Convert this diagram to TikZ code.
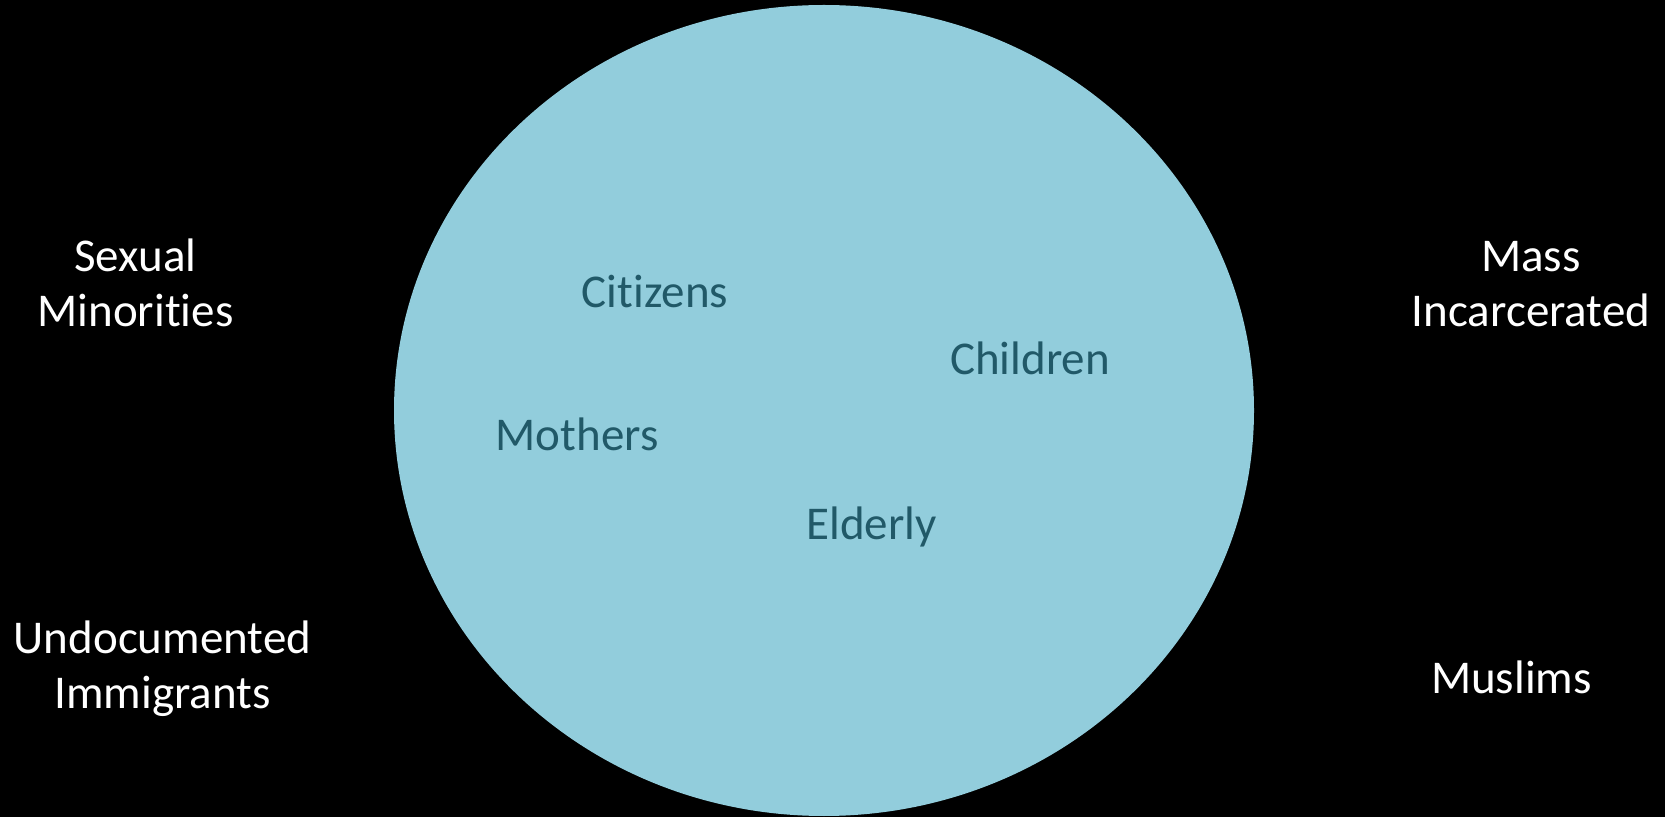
\documentclass[tikz,border=0pt]{standalone}
\usepackage{fontspec}
\setmainfont{Carlito}[Ligatures=NoCommon]
\definecolor{circfill}{HTML}{92CDDC}
\definecolor{innertext}{HTML}{215968}
\begin{document}
\begin{tikzpicture}[x=0.5pt,y=-0.5pt,
  lbl/.style={inner sep=0pt, outer sep=0pt, anchor=base, align=center,
    font=\fontsize{23.5}{27.5}\selectfont},
  outer/.style={lbl, text=white},
  inner/.style={lbl, text=innertext}]
  \fill[black] (0,0) rectangle (1665,817);
  \useasboundingbox (0,0) rectangle (1665,817);
  \fill[circfill] (824,410.5) ellipse [x radius=430, y radius=405.5];
  \node[outer] (sexual) at (135.5,327) {Sexual\\Minorities};
  \node[outer] (mass) at (1531,327) {Mass\\Incarcerated};
  \node[outer] (undoc) at (162.5,708) {Undocumented\\Immigrants};
  \node[outer] (muslims) at (1511.5,693) {Muslims};
  \node[inner] (citizens) at (655,308) {Citizens};
  \node[inner] (children) at (1030,375) {Children};
  \node[inner] (mothers) at (577,451) {Mothers};
  \node[inner] (elderly) at (871.5,540) {Elderly};
\end{tikzpicture}
\end{document}
